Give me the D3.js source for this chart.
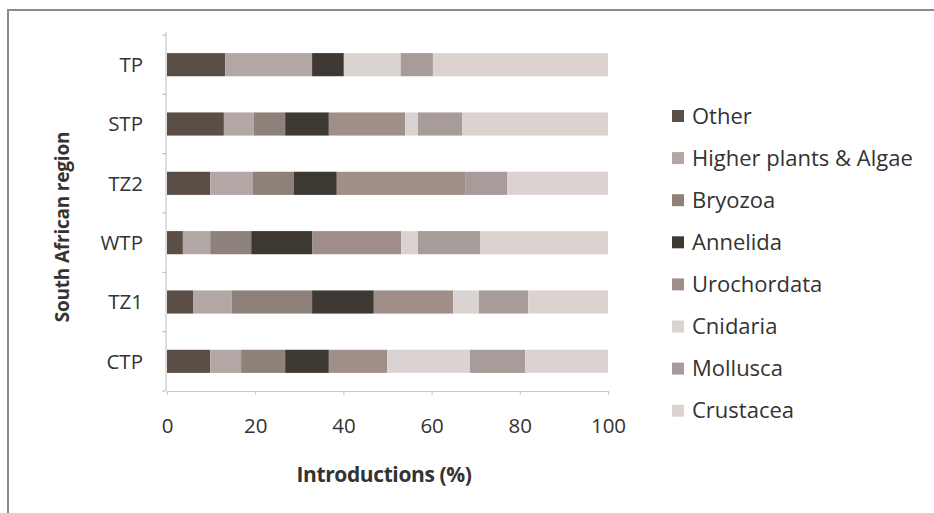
<!DOCTYPE html>
<html>
<head>
<meta charset="utf-8">
<script src="https://cdn.jsdelivr.net/npm/d3@7/dist/d3.min.js"></script>
<style>
  html, body { margin: 0; padding: 0; background: #fff; }
  svg { display: block; }
  text { font-family: "Open Sans", Lato, sans-serif; }
</style>
</head>
<body>
<svg id="chart" width="934" height="513"></svg>
<script>
// Regions, top to bottom
const regions = ["TP", "STP", "TZ2", "WTP", "TZ1", "CTP"];

// Taxonomic groups in stacking order (left to right)
const groups = ["Other", "Higher plants & Algae", "Bryozoa", "Annelida",
                "Urochordata", "Cnidaria", "Mollusca", "Crustacea"];

// Share of introductions (%) per group, one entry per region in the order above
const other       = [13.2, 12.9,  9.8,  3.6,  5.9,  9.8];
const plantsAlgae = [19.7,  6.8,  9.7,  6.2,  8.8,  7.0];
const bryozoa     = [ 0.0,  7.1,  9.3,  9.3, 18.2, 10.0];
const annelida    = [ 7.2,  9.9,  9.7, 13.8, 14.0,  9.9];
const urochordata = [ 0.0, 17.3, 29.1, 20.2, 18.0, 13.2];
const cnidaria    = [12.9,  2.9,  0.0,  3.8,  5.8, 18.8];
const mollusca    = [ 7.3, 10.0,  9.5, 14.1, 11.2, 12.5];
const crustacea   = [39.7, 33.1, 22.9, 29.0, 18.1, 18.8];

const xTicks = [0, 20, 40, 60, 80, 100];

const seriesValues = [other, plantsAlgae, bryozoa, annelida,
                      urochordata, cnidaria, mollusca, crustacea];
const colors = ["#5b4e46", "#b2a7a5", "#8d8179", "#3e3833",
                "#a08e88", "#dbd3d1", "#a79c99", "#dcd3d1"];

const rows = regions.map((r, i) => {
  const row = { region: r };
  groups.forEach((g, k) => { row[g] = seriesValues[k][i]; });
  return row;
});
const stacked = d3.stack().keys(groups)(rows);

const svg = d3.select("#chart");

// outer frame
svg.append("path")
  .attr("d", "M8,513 L8,10 L934,10")
  .attr("fill", "none").attr("stroke", "#8a8a8a").attr("stroke-width", 2);

const x = d3.scaleLinear().domain([0, 100]).range([167, 608]);
const y = d3.scaleBand().domain(regions).range([35, 391]).paddingInner(0.61).paddingOuter(0.305);

const color = d3.scaleOrdinal().domain(groups).range(colors);

// bars
svg.append("g").selectAll("g").data(stacked).join("g")
  .attr("fill", d => color(d.key))
  .selectAll("rect").data(d => d).join("rect")
  .attr("x", d => x(d[0]))
  .attr("y", d => y(d.data.region))
  .attr("width", d => x(d[1]) - x(d[0]))
  .attr("height", y.bandwidth());

// x axis
const xAxis = svg.append("g").attr("transform", "translate(0,391)")
  .call(d3.axisBottom(x).tickValues(xTicks).tickSize(4).tickPadding(23).tickFormat(d3.format("d")));
xAxis.select(".domain").attr("stroke", "#c8c8c8");
xAxis.selectAll(".tick line").attr("stroke", "#c8c8c8");
xAxis.selectAll("text").attr("font-size", 20.5).attr("fill", "#333")
  .attr("font-family", "'Open Sans', sans-serif");

// y axis: line with ticks on band boundaries, labels centred on bands
const yAxisG = svg.append("g");
yAxisG.append("line").attr("x1", 166).attr("x2", 166).attr("y1", 32).attr("y2", 391)
  .attr("stroke", "#bdbdbd");
const bounds = regions.map(r => y(r) - y.step() * y.paddingInner() / 2).concat([391]);
yAxisG.selectAll("line.tk").data(bounds).join("line").attr("class", "tk")
  .attr("x1", 162).attr("x2", 166).attr("y1", d => d).attr("y2", d => d)
  .attr("stroke", "#bdbdbd");
yAxisG.selectAll("text").data(regions).join("text")
  .attr("x", 143).attr("y", d => y(d) + y.bandwidth() / 2)
  .attr("dy", "0.35em").attr("text-anchor", "end")
  .attr("font-size", 20.5).attr("fill", "#333").text(d => d);

// axis titles
svg.append("text").attr("x", 384).attr("y", 482).attr("text-anchor", "middle")
  .attr("font-size", 21).attr("font-weight", "bold").attr("fill", "#333")
  .attr("letter-spacing", "-0.4").text("Introductions (%)");
svg.append("text").attr("transform", "translate(69,227) rotate(-90)")
  .attr("text-anchor", "middle").attr("font-size", 19).attr("font-weight", "bold")
  .attr("fill", "#333").attr("letter-spacing", "-0.2").text("South African region");

// legend
const legend = svg.append("g").selectAll("g").data(groups).join("g")
  .attr("transform", (d, i) => `translate(672,${116 + i * 42.1})`);
legend.append("rect").attr("x", 0).attr("y", -6).attr("width", 12).attr("height", 12)
  .attr("fill", d => color(d));
legend.append("text").attr("x", 20).attr("dy", "0.35em").attr("font-size", 22)
  .attr("fill", "#333").text(d => d);
</script>
</body>
</html>
